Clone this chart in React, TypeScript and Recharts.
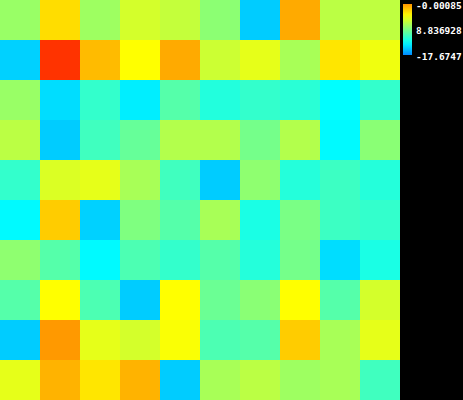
import React from 'react'
import { ScatterChart, Scatter, XAxis, YAxis } from 'recharts'

// heatmap values, row by row (top row first)
const rows = [
	[-10.61, -5.9, -10.43, -8.55, -9.12, -11.05, -17.67, -4.14, -9.44, -9.28],
	[-17.5, -0.00085, -4.7, -7.07, -4.14, -8.84, -7.95, -10.07, -6.19, -7.6],
	[-10.61, -17.07, -14.14, -16.51, -12.97, -14.74, -14.14, -14.49, -15.91, -14.14],
	[-9.44, -17.67, -13.7, -12.37, -9.72, -9.72, -11.84, -9.72, -16.08, -11.14],
	[-14.14, -8.31, -7.95, -10.07, -13.7, -17.67, -10.96, -14.67, -13.82, -14.67],
	[-16.08, -5.3, -17.5, -11.49, -12.97, -10.07, -15.02, -11.67, -13.82, -14.14],
	[-10.96, -12.97, -16.08, -13.26, -14.14, -12.97, -14.67, -11.84, -17.07, -15.02],
	[-12.97, -7.07, -13.26, -17.67, -7.07, -12.2, -11.14, -7.07, -12.97, -8.55],
	[-17.67, -3.54, -7.95, -8.55, -7.25, -13.26, -12.97, -5.3, -10.07, -7.95],
	[-7.95, -4.42, -6.19, -4.42, -17.67, -10.07, -9.44, -10.43, -10.07, -13.7],
]
const vMin = -17.6747
const vMax = -0.00085
const tickLabels = ['-0.00085', '8.836928', '-17.6747']

const COLS = 10
const ROWS = 10
const SIZE = 400
const CELL = SIZE / COLS

const points = rows.flatMap((r, ri) =>
	r.map((v, ci) => ({ x: ci + 0.5, y: ri + 0.5, v }))
)

const clip = (n: number) => Math.max(0, Math.min(1, n))
const jet = (t: number) => {
	const r = clip(1.5 - Math.abs(4 * t - 3))
	const g = clip(1.5 - Math.abs(4 * t - 2))
	const b = clip(1.5 - Math.abs(4 * t - 1))
	const h = (n: number) => Math.round(n * 255).toString(16).padStart(2, '0')
	return `#${h(r)}${h(g)}${h(b)}`
}
// the colours only use the middle part of jet
const toColor = (v: number) => jet(0.325 + (0.5 * (v - vMin)) / (vMax - vMin))

const Cell = (props: any) => {
	const { cx, cy, payload } = props
	return (
		<rect
			x={cx - CELL / 2}
			y={cy - CELL / 2}
			width={CELL}
			height={CELL}
			fill={toColor(payload.v)}
			shapeRendering="crispEdges"
		/>
	)
}

const barStops = [0, 0.1, 0.2, 0.3, 0.4, 0.5, 0.6, 0.7, 0.8, 0.9, 1]

export default function App() {
	return (
		<div
			style={{
				position: 'absolute',
				left: 0,
				top: 0,
				width: 463,
				height: 400,
				background: '#000',
			}}
		>
			<ScatterChart
				width={SIZE}
				height={SIZE}
				margin={{ top: 0, right: 0, bottom: 0, left: 0 }}
			>
				<XAxis dataKey="x" type="number" domain={[0, COLS]} hide />
				<YAxis dataKey="y" type="number" domain={[0, ROWS]} reversed hide />
				<Scatter data={points} shape={Cell} isAnimationActive={false} />
			</ScatterChart>

			{/* colour bar */}
			<svg
				width={63}
				height={70}
				style={{ position: 'absolute', left: 400, top: 0 }}
			>
				<defs>
					<linearGradient id="cbar" x1="0" y1="0" x2="0" y2="1">
						{barStops.map((s) => (
							<stop key={s} offset={s} stopColor={jet(0.73 - 0.47 * s)} />
						))}
					</linearGradient>
				</defs>
				<rect x={3} y={4} width={9} height={51} fill="url(#cbar)" />
				{tickLabels.map((t, i) => (
					<text
						key={t}
						x={16}
						y={8.5 + i * 25.5}
						fill="#fff"
						fontSize={9.5}
						fontWeight="bold"
						fontFamily="DejaVu Sans Mono"
					>
						{t}
					</text>
				))}
			</svg>
		</div>
	)
}
